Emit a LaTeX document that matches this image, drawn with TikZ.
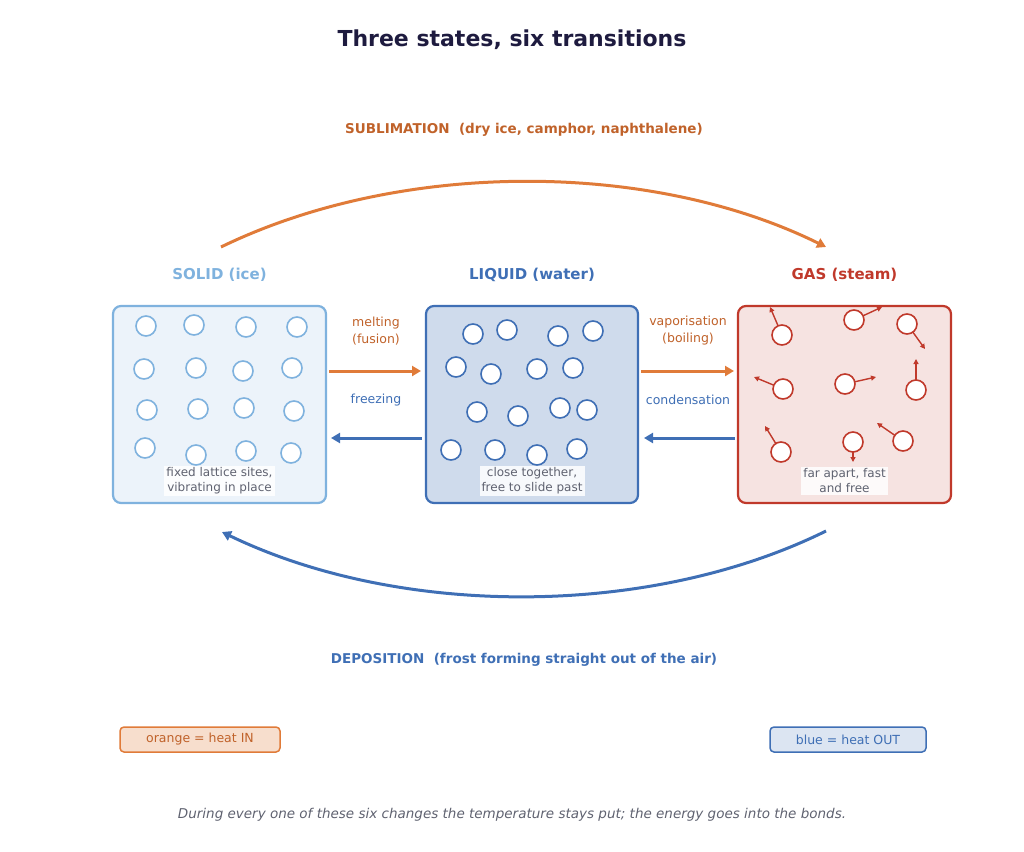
\documentclass[tikz,border=0pt]{standalone}
\usepackage{fontspec}
\setmainfont{DejaVu Sans}
\usetikzlibrary{arrows.meta}
\definecolor{org}{HTML}{E07B39}
\definecolor{orgt}{HTML}{C0622A}
\definecolor{blu}{HTML}{3F6FB5}
\definecolor{lblu}{HTML}{7FB2DE}
\definecolor{rd}{HTML}{C0392B}
\definecolor{gry}{HTML}{5F6270}
\definecolor{ttl}{HTML}{1E1B3F}
\begin{document}
\begin{tikzpicture}[x=1pt,y=-1pt,
 box/.style={draw,line width=2.2pt,rounded corners=8pt},
 mol/.style={circle,draw,line width=1.6pt,fill=white,minimum size=20pt,inner sep=0pt},
 capt/.style={fill=white,fill opacity=0.85,text opacity=1,text=gry,font=\fontsize{12}{15}\selectfont,align=center,inner sep=2pt},
 lab/.style={font=\fontsize{12.5}{17}\selectfont,align=center},
 head/.style={font=\bfseries\fontsize{15}{18}\selectfont},
 tr/.style={line width=3pt,-{Triangle[length=9pt,width=10pt]}},
 vel/.style={rd,line width=1.4pt,-{Triangle[length=5pt,width=5pt]}}]
\useasboundingbox (0,0) rectangle (1024,851);
\node[font=\bfseries\fontsize{22}{26}\selectfont,text=ttl] (title) at (512,40) {Three states, six transitions};
% boxes
\node[box,draw=lblu,fill=lblu!15,minimum width=213pt,minimum height=197pt] (S) at (219.5,404.5) {};
\node[box,draw=blu,fill=blu!25,minimum width=212pt,minimum height=197pt] (L) at (532,404.5) {};
\node[box,draw=rd,fill=rd!14,minimum width=213pt,minimum height=197pt] (G) at (844.5,404.5) {};
\node[head,text=lblu] (Sh) at (219.5,275) {SOLID (ice)};
\node[head,text=blu] (Lh) at (532,275) {LIQUID (water)};
\node[head,text=rd] (Gh) at (844.5,275) {GAS (steam)};
\foreach \a/\b [count=\i] in {146/326,194/325,246/327,297/327,144/369,196/368,243/371,292/368,147/410,198/409,244/408,294/411,145/448,196/455,246/451,291/453}
 \node[mol,draw=lblu] (s\i) at (\a,\b) {};
\foreach \a/\b [count=\i] in {473/334,507/330,558/336,593/331,456/367,491/374,537/369,573/368,477/412,518/416,560/408,587/410,451/450,495/450,537/455,577/449}
 \node[mol,draw=blu] (l\i) at (\a,\b) {};
\foreach \a/\b/\c/\d [count=\i] in {782/335/770/307,854/320/882/307,907/324/925/349,783/389/754/377,845/384/876/377,916/390/916/359,781/452/765/426,853/442/853/462,903/441/877/423}{
 \coordinate (g\i) at (\a,\b);
 \coordinate (w\i) at (\c,\d);
 \draw[vel] (g\i) -- (w\i);
 \node[mol,draw=rd] (gm\i) at (g\i) {};
}
\node[capt] (Sc) at (219.5,481) {fixed lattice sites,\\vibrating in place};
\node[capt] (Lc) at (532,481) {close together,\\free to slide past};
\node[capt] (Gc) at (844.5,481) {far apart, fast\\and free};
% transitions
\coordinate (m1) at (329,371); \coordinate (m2) at (421,371);
\coordinate (f1) at (422,438); \coordinate (f2) at (331,438);
\coordinate (v1a) at (641,371); \coordinate (v2a) at (734,371);
\coordinate (c1) at (735,438); \coordinate (c2) at (644,438);
\draw[tr,org] (m1) -- (m2);
\draw[tr,blu] (f1) -- (f2);
\draw[tr,org] (v1a) -- (v2a);
\draw[tr,blu] (c1) -- (c2);
\node[lab,text=orgt] (ml) at (376,331) {melting\\(fusion)};
\node[lab,text=blu] (fl) at (376,400) {freezing};
\node[lab,text=orgt,fill=white,inner sep=2pt] (vl) at (688,331) {vaporisation\\(boiling)};
\node[lab,text=blu,fill=white,inner sep=2pt] (cl) at (688,400) {condensation};
% arcs
\coordinate (a1) at (221,247); \coordinate (a2) at (826,247);
\draw[tr,org] (a1) .. controls (400,160) and (650,160) .. (a2);
\coordinate (d1) at (826,531); \coordinate (d2) at (222,532);
\draw[tr,blu] (d1) .. controls (650,618) and (400,618) .. (d2);
\node[font=\bfseries\fontsize{13.5}{16}\selectfont,text=orgt] (sub) at (524,130) {SUBLIMATION\ \ (dry ice, camphor, naphthalene)};
\node[font=\bfseries\fontsize{13.5}{16}\selectfont,text=blu] (dep) at (524,660) {DEPOSITION\ \ (frost forming straight out of the air)};
% legend
\node[draw=org,fill=org!25,line width=1.5pt,rounded corners=4pt,text=orgt,font=\fontsize{12.5}{15}\selectfont,minimum width=160pt,minimum height=25pt] (lo) at (200,739.5) {orange = heat IN};
\node[draw=blu,fill=blu!18,line width=1.5pt,rounded corners=4pt,text=blu,font=\fontsize{12.5}{15}\selectfont,minimum width=156pt,minimum height=25pt] (lb) at (848,739.5) {blue = heat OUT};
\node[font=\itshape\fontsize{13.5}{16}\selectfont,text=gry] (foot) at (512,815) {During every one of these six changes the temperature stays put; the energy goes into the bonds.};
\end{tikzpicture}
\end{document}
